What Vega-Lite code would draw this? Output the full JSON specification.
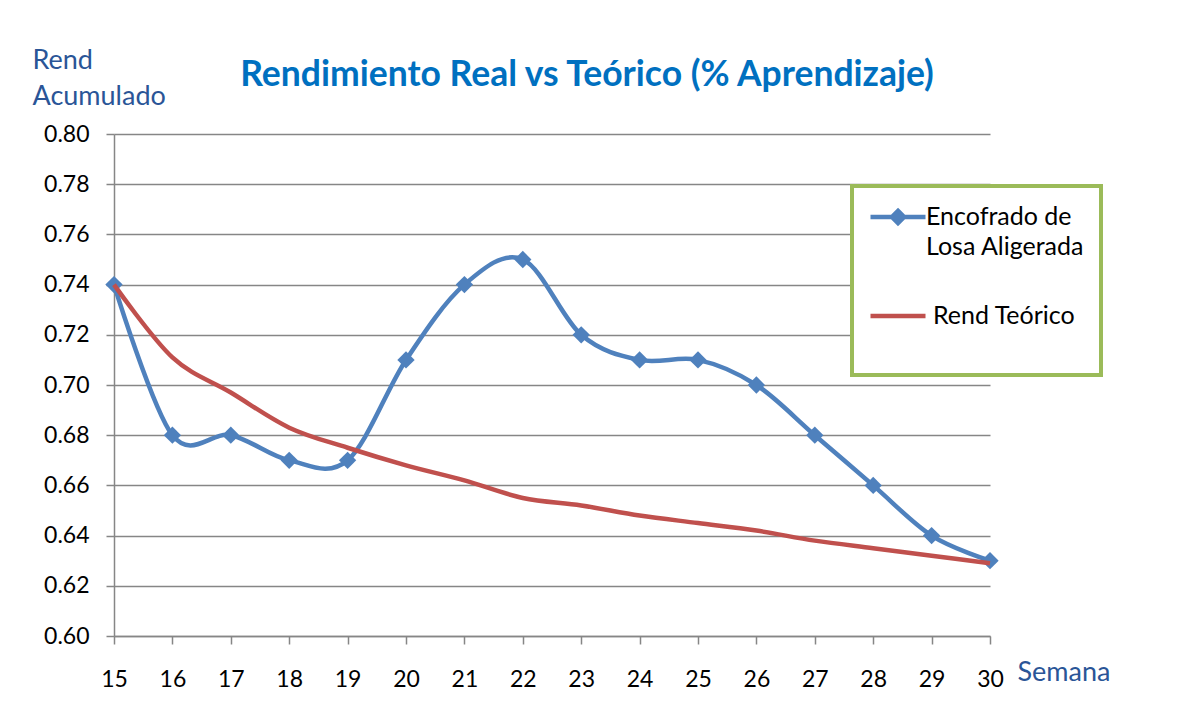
{
  "$schema": "https://vega.github.io/schema/vega-lite/v6.json",
  "width": 876,
  "height": 502,
  "autosize": {"type": "none"},
  "padding": {"left": 114, "top": 134, "right": 187, "bottom": 81},
  "background": "white",
  "title": {
    "text": "Rendimiento Real vs Teórico (% Aprendizaje)",
    "font": "Lato",
    "fontSize": 35.5,
    "fontWeight": "bold",
    "color": "#0070C0",
    "anchor": "middle",
    "dx": 35,
    "baseline": "alphabetic",
    "offset": -75
  },
  "config": {
    "view": {"stroke": null},
    "axis": {
      "labelFont": "Lato",
      "labelFontSize": 23,
      "labelColor": "#000000",
      "titleFont": "Lato",
      "titleFontSize": 27,
      "titleFontWeight": "normal",
      "titleColor": "#2A5597",
      "domainColor": "#868686",
      "domainWidth": 1.5,
      "tickColor": "#868686",
      "tickWidth": 1.5,
      "tickSize": 8,
      "gridColor": "#868686",
      "gridWidth": 1.3
    }
  },
  "data": {
    "values": [
      {"semana": 15, "serie": "Encofrado de Losa Aligerada", "valor": 0.74},
      {"semana": 16, "serie": "Encofrado de Losa Aligerada", "valor": 0.68},
      {"semana": 17, "serie": "Encofrado de Losa Aligerada", "valor": 0.68},
      {"semana": 18, "serie": "Encofrado de Losa Aligerada", "valor": 0.67},
      {"semana": 19, "serie": "Encofrado de Losa Aligerada", "valor": 0.67},
      {"semana": 20, "serie": "Encofrado de Losa Aligerada", "valor": 0.71},
      {"semana": 21, "serie": "Encofrado de Losa Aligerada", "valor": 0.74},
      {"semana": 22, "serie": "Encofrado de Losa Aligerada", "valor": 0.75},
      {"semana": 23, "serie": "Encofrado de Losa Aligerada", "valor": 0.72},
      {"semana": 24, "serie": "Encofrado de Losa Aligerada", "valor": 0.71},
      {"semana": 25, "serie": "Encofrado de Losa Aligerada", "valor": 0.71},
      {"semana": 26, "serie": "Encofrado de Losa Aligerada", "valor": 0.70},
      {"semana": 27, "serie": "Encofrado de Losa Aligerada", "valor": 0.68},
      {"semana": 28, "serie": "Encofrado de Losa Aligerada", "valor": 0.66},
      {"semana": 29, "serie": "Encofrado de Losa Aligerada", "valor": 0.64},
      {"semana": 30, "serie": "Encofrado de Losa Aligerada", "valor": 0.63},
      {"semana": 15, "serie": "Rend Teórico", "valor": 0.740},
      {"semana": 16, "serie": "Rend Teórico", "valor": 0.711},
      {"semana": 17, "serie": "Rend Teórico", "valor": 0.697},
      {"semana": 18, "serie": "Rend Teórico", "valor": 0.683},
      {"semana": 19, "serie": "Rend Teórico", "valor": 0.675},
      {"semana": 20, "serie": "Rend Teórico", "valor": 0.668},
      {"semana": 21, "serie": "Rend Teórico", "valor": 0.662},
      {"semana": 22, "serie": "Rend Teórico", "valor": 0.655},
      {"semana": 23, "serie": "Rend Teórico", "valor": 0.652},
      {"semana": 24, "serie": "Rend Teórico", "valor": 0.648},
      {"semana": 25, "serie": "Rend Teórico", "valor": 0.645},
      {"semana": 26, "serie": "Rend Teórico", "valor": 0.642},
      {"semana": 27, "serie": "Rend Teórico", "valor": 0.638},
      {"semana": 28, "serie": "Rend Teórico", "valor": 0.635},
      {"semana": 29, "serie": "Rend Teórico", "valor": 0.632},
      {"semana": 30, "serie": "Rend Teórico", "valor": 0.629}
    ]
  },
  "encoding": {
    "x": {
      "field": "semana",
      "type": "quantitative",
      "scale": {"domain": [15, 30], "nice": false, "zero": false},
      "axis": {
        "values": [15, 16, 17, 18, 19, 20, 21, 22, 23, 24, 25, 26, 27, 28, 29, 30],
        "format": "d",
        "grid": false,
        "labelPadding": 24,
        "labelFlush": false,
        "title": "Semana",
        "titleAngle": 0,
        "titleAlign": "left",
        "titleBaseline": "alphabetic",
        "titleX": 903,
        "titleY": 44
      }
    },
    "y": {
      "field": "valor",
      "type": "quantitative",
      "scale": {"domain": [0.6, 0.8], "nice": false, "zero": false},
      "axis": {
        "values": [0.6, 0.62, 0.64, 0.66, 0.68, 0.7, 0.72, 0.74, 0.76, 0.78, 0.8],
        "format": ".2f",
        "grid": true,
        "labelPadding": 17,
        "labelFlush": false,
        "title": ["Rend", "Acumulado"],
        "titleAngle": 0,
        "titleAlign": "left",
        "titleBaseline": "alphabetic",
        "titleLineHeight": 36,
        "titleX": -82,
        "titleY": -66
      }
    },
    "color": {
      "field": "serie",
      "type": "nominal",
      "scale": {
        "domain": ["Encofrado de Losa Aligerada", "Rend Teórico"],
        "range": ["#4F81BD", "#C0504D"]
      },
      "legend": {
        "title": null,
        "orient": "none",
        "legendX": 738,
        "legendY": 52,
        "padding": 16,
        "fillColor": "white",
        "strokeColor": "#9BBB59",
        "labelFont": "Lato",
        "labelFontSize": 25,
        "labelColor": "#000000",
        "labelLimit": 400,
        "labelOffset": -2,
        "labelExpr": "datum.label == 'Rend Teórico' ? ['Rend Teórico', ''] : ['Encofrado de', 'Losa Aligerada']",
        "symbolSize": 3025,
        "symbolStrokeWidth": 4.5,
        "rowPadding": 41,
        "encode": {
          "symbols": {
            "update": {
              "shape": {"signal": "datum.value == 'Rend Teórico' ? 'M-1,-0.545H1' : 'M-1,-0.545H1M0,-0.765L0.22,-0.545L0,-0.325L-0.22,-0.545Z'"},
              "fill": {"signal": "datum.value == 'Rend Teórico' ? 'transparent' : '#4F81BD'"},
              "strokeWidth": {"value": 4.5}
            }
          },
          "labels": {
            "update": {
              "lineHeight": {"value": 30},
              "dy": {"value": -15},
              "dx": {"signal": "datum.value == 'Rend Teórico' ? 7 : 0"}
            }
          },
          "legend": {
            "update": {
              "strokeWidth": {"value": 4}
            }
          }
        }
      }
    }
  },
  "layer": [
    {
      "transform": [{"filter": "datum.serie == 'Encofrado de Losa Aligerada'"}],
      "mark": {"type": "line", "strokeWidth": 4.5, "interpolate": "cardinal"}
    },
    {
      "transform": [{"filter": "datum.serie == 'Encofrado de Losa Aligerada'"}],
      "mark": {"type": "point", "shape": "diamond", "filled": true, "size": 300, "opacity": 1}
    },
    {
      "transform": [{"filter": "datum.serie == 'Rend Teórico'"}],
      "mark": {"type": "line", "strokeWidth": 4.5, "interpolate": "cardinal"}
    }
  ]
}
